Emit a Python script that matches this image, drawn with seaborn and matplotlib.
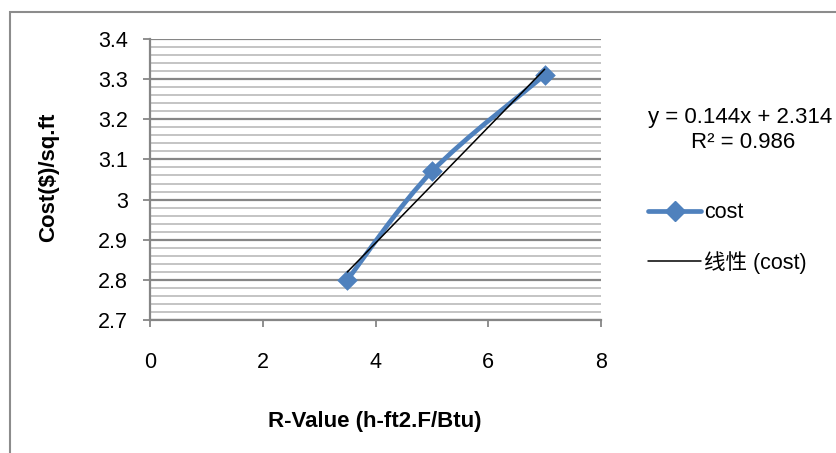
import numpy as np
import pandas as pd
import matplotlib.pyplot as plt
import seaborn as sns
from matplotlib.path import Path
from matplotlib.patches import PathPatch, Rectangle
from matplotlib.lines import Line2D

r_value = [3.5, 5, 7]
cost = [2.80, 3.07, 3.31]
x_ticks = [0, 2, 4, 6, 8]
y_ticks = [2.7, 2.8, 2.9, 3.0, 3.1, 3.2, 3.3, 3.4]
y_tick_labels = ['2.7', '2.8', '2.9', '3', '3.1', '3.2', '3.3', '3.4']

blue = '#4F81BD'
grid_major = '#868686'
grid_minor = '#C4C4C4'

sns.set_style('white')
plt.rcParams['font.family'] = ['Liberation Sans', 'Noto Sans CJK SC', 'DejaVu Sans']
plt.rcParams['text.color'] = 'black'
plt.rcParams['axes.labelcolor'] = 'black'
plt.rcParams['xtick.color'] = 'black'
plt.rcParams['ytick.color'] = 'black'

df = pd.DataFrame({'R': r_value, 'cost': cost})

fig = plt.figure(figsize=(8.36, 4.53), dpi=100)
ax = fig.add_axes([150 / 836, 1 - 320 / 453, 451 / 836, 281 / 453])

# 網格線
for v in np.arange(2.7, 3.4001, 0.02):
    major = abs(v * 10 - round(v * 10)) < 1e-6
    ax.axhline(v, color=grid_major if major else grid_minor,
               lw=1.6 if major else 1.4, zorder=0)

# 平滑曲線 (Excel 風格, Catmull-Rom -> Bezier)
pts = np.column_stack([r_value, cost])
verts = [pts[0]]
codes = [Path.MOVETO]
n = len(pts)
for i in range(n - 1):
    p0 = pts[i - 1] if i > 0 else pts[i]
    p1 = pts[i]
    p2 = pts[i + 1]
    p3 = pts[i + 2] if i + 2 < n else pts[i + 1]
    c1 = p1 + (p2 - p0) / 6
    c2 = p2 - (p3 - p1) / 6
    verts += [c1, c2, p2]
    codes += [Path.CURVE4] * 3
ax.add_patch(PathPatch(Path(verts, codes), fill=False, edgecolor=blue,
                       lw=3.4, capstyle='round', joinstyle='round', zorder=2))
sns.scatterplot(data=df, x='R', y='cost', marker='D', s=110, color=blue,
                edgecolor=blue, linewidth=0, ax=ax, zorder=3)

# 線性趨勢線
k, b = np.polyfit(r_value, cost, 1)
trend = pd.DataFrame({'R': [min(r_value), max(r_value)]})
trend['fit'] = k * trend['R'] + b
sns.lineplot(data=trend, x='R', y='fit', color='black', lw=1.1, ax=ax, zorder=4)

ax.set_xlim(0, 8)
ax.set_ylim(2.7, 3.4)
ax.set_xticks(x_ticks)
ax.set_yticks(y_ticks)
ax.set_yticklabels(y_tick_labels)
ax.tick_params(axis='x', bottom=True, direction='out', length=5, width=1.3,
               color=grid_major, pad=18, labelsize=15.5)
ax.tick_params(axis='y', left=True, direction='out', length=5, width=1.3,
               color=grid_major, pad=11, labelsize=15.5)
for s in ['top', 'right']:
    ax.spines[s].set_visible(False)
for s in ['left', 'bottom']:
    ax.spines[s].set_color(grid_major)
    ax.spines[s].set_linewidth(1.6)

ax.set_xlabel('R-Value (h-ft2.F/Btu)', fontsize=16, fontweight='bold')
ax.set_ylabel('Cost($)/sq.ft', fontsize=16, fontweight='bold')
ax.xaxis.set_label_coords(225 / 451, (320 - 411) / 281)
ax.yaxis.set_label_coords((59 - 150) / 451, (320 - 177) / 281)

fig.text(648 / 836, 1 - 118 / 453, 'y = 0.144x + 2.314', fontsize=16,
         ha='left', va='center')
fig.text(743 / 836, 1 - 143 / 453, 'R² = 0.986', fontsize=16,
         ha='center', va='center')

handles = [Line2D([], [], color=blue, lw=3.4, marker='D', markersize=10),
           Line2D([], [], color='black', lw=1.1)]
fig.legend(handles, ['cost', '线性 (cost)'], loc='center left',
           bbox_to_anchor=(629 / 836, 1 - 238 / 453), frameon=False,
           fontsize=15.5, handlelength=2.45, handletextpad=0.15,
           labelspacing=1.3)

fig.patches.append(Rectangle((10 / 836, -0.1), 1.2, 1 - 12 / 453 + 0.1,
                             transform=fig.transFigure, fill=False,
                             edgecolor='#8C8C8C', lw=1.5))

fig.savefig('out.png', dpi=100)
